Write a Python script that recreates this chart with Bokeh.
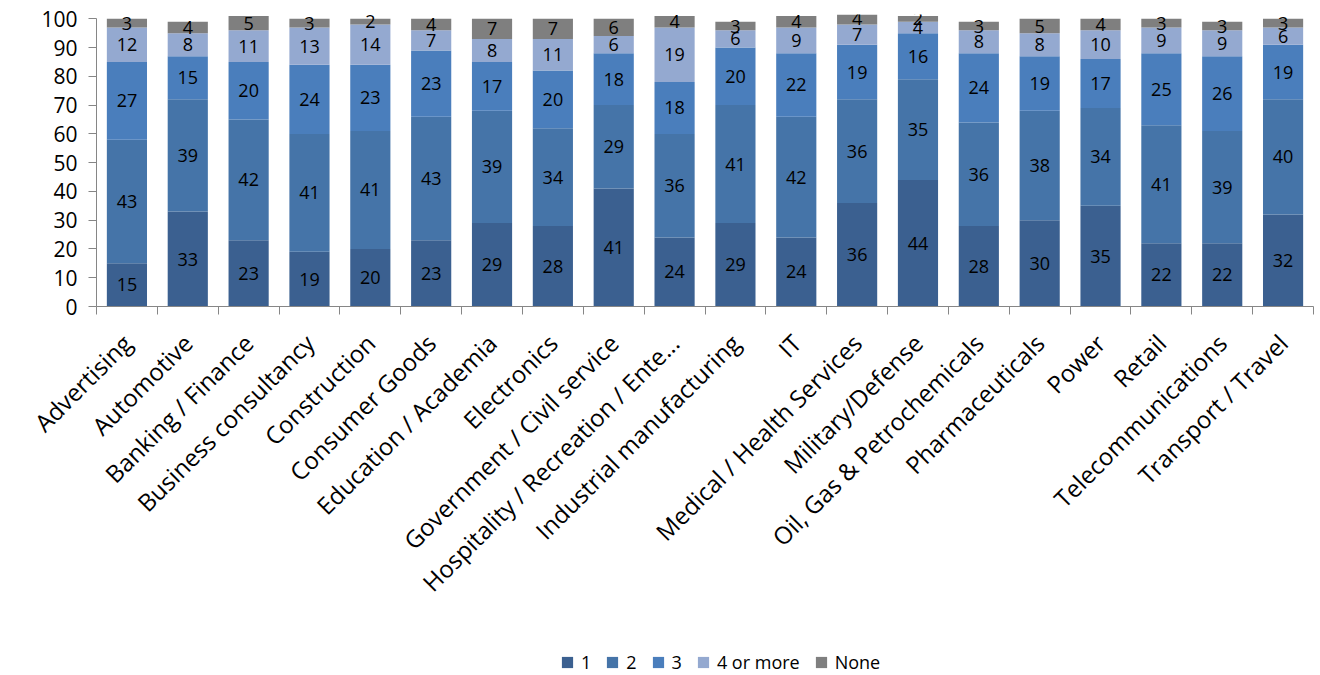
import numpy as np
from bokeh.plotting import figure
from bokeh.layouts import column
from bokeh.models import ColumnDataSource, FixedTicker, Range1d, Legend, LegendItem
from bokeh.core.properties import value
from bokeh.embed import file_html
from bokeh.resources import INLINE

categories = ["Advertising", "Automotive", "Banking / Finance", "Business consultancy",
              "Construction", "Consumer Goods", "Education / Academia", "Electronics",
              "Government / Civil service", "Hospitality / Recreation / Ente...",
              "Industrial manufacturing", "IT", "Medical / Health Services",
              "Military/Defense", "Oil, Gas & Petrochemicals", "Pharmaceuticals",
              "Power", "Retail", "Telecommunications", "Transport / Travel"]
one = [15, 33, 23, 19, 20, 23, 29, 28, 41, 24, 29, 24, 36, 44, 28, 30, 35, 22, 22, 32]
two = [43, 39, 42, 41, 41, 43, 39, 34, 29, 36, 41, 42, 36, 35, 36, 38, 34, 41, 39, 40]
three = [27, 15, 20, 24, 23, 23, 17, 20, 18, 18, 20, 22, 19, 16, 24, 19, 17, 25, 26, 19]
four_plus = [12, 8, 11, 13, 14, 7, 8, 11, 6, 19, 6, 9, 7, 4, 8, 8, 10, 9, 9, 6]
none = [3, 4, 5, 3, 2, 4, 7, 7, 6, 4, 3, 4, 4, 2, 3, 5, 4, 3, 3, 3]
series_names = ["1", "2", "3", "4 or more", "None"]
y_ticks = list(range(0, 101, 10))

colors = ["#3B6090", "#4574A8", "#4A7EBC", "#94A9D0", "#7F7F7F"]
font = "Open Sans"

keys = ["s1", "s2", "s3", "s4", "s5"]
series = [one, two, three, four_plus, none]
xs = list(range(len(categories)))
data = {"x": xs}
for k, s in zip(keys, series):
    data[k] = s
src = ColumnDataSource(data)

p = figure(width=1320, height=640, output_backend="svg", toolbar_location=None,
           x_range=Range1d(-0.5, len(categories) - 0.5), y_range=Range1d(0, 101.5),
           min_border_left=96, min_border_right=7, min_border_top=14, min_border_bottom=334)
p.outline_line_color = None
p.xgrid.visible = False
p.ygrid.visible = False

rends = p.vbar_stack(keys, x="x", width=0.66, source=src, color=colors, line_color=None)

# segment labels
lx, ly, lt = [], [], []
base = np.zeros(len(categories))
for s in series:
    arr = np.array(s, dtype=float)
    for i in range(len(categories)):
        lx.append(xs[i])
        ly.append(base[i] + arr[i] / 2)
        lt.append(str(s[i]))
    base += arr
lsrc = ColumnDataSource(dict(x=lx, y=ly, t=lt))
p.text(x="x", y="y", text="t", source=lsrc, text_align="center", text_baseline="middle",
       text_font=value(font), text_font_size="18px", text_color="#000000")

# y axis
p.yaxis.ticker = FixedTicker(ticks=y_ticks)
p.yaxis.bounds = (0, 100)
p.yaxis.axis_line_color = "#868686"
p.yaxis.major_tick_line_color = "#868686"
p.yaxis.major_tick_out = 8
p.yaxis.major_tick_in = 0
p.yaxis.minor_tick_line_color = None
p.yaxis.major_label_text_font = font
p.yaxis.major_label_text_font_size = "21px"
p.yaxis.major_label_text_color = "#000000"
p.yaxis.major_label_standoff = 11

# x axis
p.xaxis.ticker = FixedTicker(ticks=xs, minor_ticks=[i - 0.5 for i in range(len(categories) + 1)])
p.xaxis.major_label_overrides = {i: c for i, c in enumerate(categories)}
p.xaxis.major_label_orientation = np.pi / 4
p.xaxis.axis_line_color = "#868686"
p.xaxis.major_tick_line_color = None
p.xaxis.minor_tick_line_color = "#868686"
p.xaxis.minor_tick_out = 8
p.xaxis.minor_tick_in = 0
p.xaxis.major_label_text_font = font
p.xaxis.major_label_text_font_size = "24px"
p.xaxis.major_label_text_color = "#000000"
p.xaxis.major_label_standoff = 24

# legend in a strip below the chart
lg = figure(width=1320, height=35, output_backend="svg", toolbar_location=None,
            x_range=Range1d(0, 1), y_range=Range1d(0, 1),
            x_axis_location=None, y_axis_location=None,
            min_border_left=0, min_border_right=0, min_border_top=0, min_border_bottom=0)
lg.outline_line_color = None
lg.xgrid.visible = False
lg.ygrid.visible = False
dummy = []
for c in colors:
    dummy.append(lg.quad(left=[-3], right=[-2], bottom=[-3], top=[-2],
                         fill_color=c, line_color=None))
legend = Legend(items=[LegendItem(label=n, renderers=[r]) for n, r in zip(series_names, dummy)],
                orientation="horizontal", location=(464, 1),
                label_text_font=font, label_text_font_size="18px", label_text_color="#000000",
                glyph_width=14, glyph_height=14, spacing=14, label_standoff=7, label_width=10,
                border_line_color=None, background_fill_alpha=0, padding=0, margin=0)
lg.add_layout(legend, "center")

layout = column(p, lg, spacing=0)
open("out.html", "w").write(file_html(layout, INLINE))
